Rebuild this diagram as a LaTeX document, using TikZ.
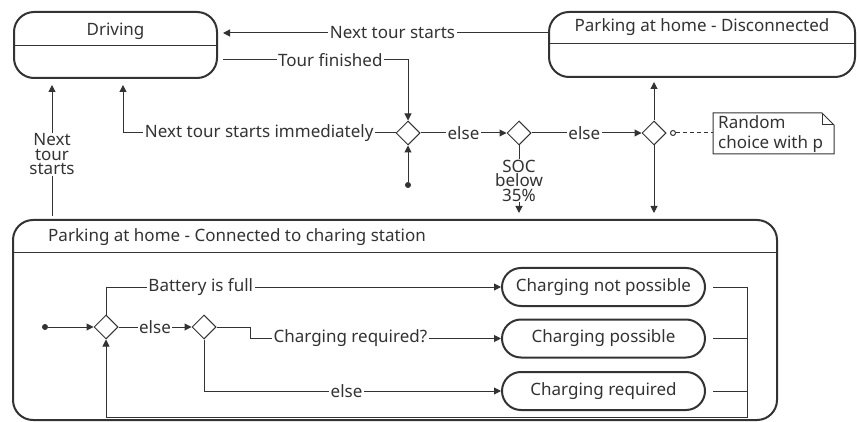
\documentclass[tikz,border=0pt]{standalone}
\usepackage{fontspec}
\setmainfont{Noto Sans}
\usetikzlibrary{shapes.geometric,arrows.meta,calc}
\definecolor{lc}{RGB}{51,51,51}
\begin{document}
\begin{tikzpicture}[x=1pt,y=-1pt,
  font=\fontsize{17}{14.5}\selectfont, text=lc,
  conn/.style={line width=1pt, draw=lc},
  arr/.style={conn, -{Triangle[length=7pt,width=7pt]}},
  statebox/.style={draw=lc, line width=2pt, rounded corners=20pt, inner sep=0pt},
  pill/.style={draw=lc, line width=2pt, rounded corners=19pt, minimum width=203pt, minimum height=38pt, inner sep=0pt},
  dia/.style={diamond, draw=lc, line width=1pt, minimum size=24pt, inner sep=0pt, fill=white},
  lbl/.style={fill=white, inner sep=1.5pt, text=lc},
  txt/.style={inner sep=0pt, text=lc},
  dot/.style={circle, fill=lc, draw=none, minimum size=6pt, inner sep=0pt}
]
\path[use as bounding box, fill=white] (0,0) rectangle (857,422);

% state boxes
\node[statebox, minimum width=203pt, minimum height=66pt] (drv) at (115.5,45) {};
\node[txt] (drvt) at (115.5,31) {Driving};
\draw[conn] (drv.west |- 0,46) -- (drv.east |- 0,46);

\node[statebox, minimum width=306pt, minimum height=65pt] (disc) at (702,44.5) {};
\node[txt] (disct) at (702,27) {Parking at home - Disconnected};
\draw[conn] (disc.west |- 0,44) -- (disc.east |- 0,44);

\node[statebox, minimum width=764pt, minimum height=200pt] (conn) at (395,320) {};
\node[txt, anchor=west] (connt) at (48,237) {Parking at home - Connected to charing station};
\draw[conn] (conn.west |- 0,253) -- (conn.east |- 0,253);

% decisions
\node[dia] (d1) at (408,133) {};
\node[dia] (d2) at (519,133) {};
\node[dia] (d3) at (654,133) {};
\node[dia] (d4) at (106,327) {};
\node[dia] (d5) at (204,327) {};
\node[dot] (i1) at (408,185) {};
\node[dot] (i2) at (45,327) {};

% charging states
\node[pill] (cnp) at (603.5,287) {Charging not possible};
\node[pill] (cp) at (603.5,338.5) {Charging possible};
\node[pill] (cr) at (603.5,391) {Charging required};

% note
\coordinate (nA) at (713,113);
\coordinate (nB) at (834,154);
\draw[draw=lc, line width=1pt, fill=white] (nA) -- (822,113) -- (834,125) -- (nB) -- (713,154) -- cycle;
\draw[draw=lc, line width=1pt] (822,113) -- (822,125) -- (834,125);
\node[txt, anchor=north west, align=left, font=\fontsize{17}{20}\selectfont] (note) at (718,115) {Random\\choice with p};

% top connectors
\coordinate (a1s) at (549,33);
\coordinate (a1e) at (223,33);
\draw[arr] (a1s) -- node[lbl, pos=0.48] {Next tour starts} (a1e);

\coordinate (tf1) at (223,60);
\coordinate (tf2) at (408,60);
\draw[arr] (tf1) -- node[lbl, pos=0.58] {Tour finished} (tf2) -- (d1.north);

\coordinate (im1) at (123,133);
\coordinate (im2) at (123,85);
\draw[arr] (d1.west) -- node[lbl, pos=0.5] {Next tour starts immediately} (im1) -- (im2);

\draw[arr] (i1) -- (d1.south);
\draw[arr] (d1.east) -- node[lbl] {else} (d2.west);
\coordinate (soc) at (519,213);
\draw[arr] (d2.south) -- node[lbl, inner sep=1pt, align=center, pos=0.52] {SOC\\below\\35\%} (soc);
\draw[arr] (d2.east) -- node[lbl, pos=0.48] {else} (d3.west);
\coordinate (up3) at (654,82);
\coordinate (dn3) at (654,213);
\draw[arr] (d3.north) -- (up3);
\draw[arr] (d3.south) -- (dn3);
\node[circle, draw=lc, line width=1pt, fill=white, minimum size=5pt, inner sep=0pt] (oc) at (673,133) {};
\draw[conn, dash pattern=on 4pt off 3pt] (oc) -- (nA |- oc);

\coordinate (nt1) at (52,216);
\coordinate (nt2) at (52,85);
\draw[arr] (nt1) -- node[lbl, align=center, pos=0.47, inner sep=1pt] {Next\\tour\\starts} (nt2);

% inner connectors
\draw[arr] (i2) -- (d4.west);
\draw[arr] (d4.east) -- node[lbl] {else} (d5.west);
\coordinate (bf) at (106,287);
\draw[arr] (d4.north) -- (bf) -- node[lbl, pos=0.24] {Battery is full} (cnp.west);
\coordinate (cq1) at (250,327);
\coordinate (cq2) at (250,338.5);
\draw[arr] (d5.east) -- (cq1) -- (cq2) -- node[lbl, pos=0.4] {Charging required?} (cp.west);
\coordinate (el) at (204,391);
\draw[arr] (d5.south) -- (el) -- node[lbl, pos=0.48] {else} (cr.west);

\coordinate (rx1) at (747,287);
\coordinate (rx2) at (747,338.5);
\coordinate (rx3) at (747,391);
\coordinate (rb) at (747,417);
\coordinate (lb) at (106,417);
\draw[conn] ($(cnp.east)+(7,0)$) -- (rx1);
\draw[conn] ($(cp.east)+(7,0)$) -- (rx2);
\draw[conn] ($(cr.east)+(7,0)$) -- (rx3);
\draw[arr] (rx1) -- (rb) -- (lb) -- (d4.south);
\end{tikzpicture}
\end{document}
